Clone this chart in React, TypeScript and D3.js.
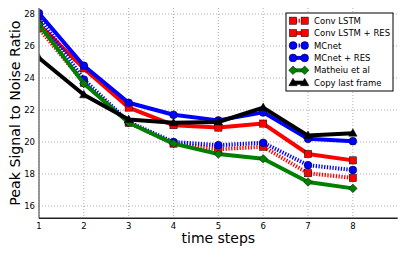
import React from 'react';
import * as d3 from 'd3';

// time steps on the x axis
const steps = [1, 2, 3, 4, 5, 6, 7, 8];

// PSNR values per method
const convLstm = [27.1, 23.7, 21.2, 19.9, 19.55, 19.7, 18.05, 17.75];
const convLstmRes = [27.35, 24.6, 22.15, 21.05, 20.9, 21.15, 19.25, 18.85];
const mcnet = [27.85, 23.9, 21.25, 20.0, 19.8, 19.95, 18.55, 18.25];
const mcnetRes = [28.05, 24.77, 22.45, 21.7, 21.35, 21.85, 20.2, 20.05];
const mathieu = [27.35, 23.65, 21.2, 19.9, 19.25, 18.95, 17.5, 17.1];
const copyLast = [25.25, 22.95, 21.4, 21.2, 21.25, 22.15, 20.4, 20.55];

const xTicks = [1, 2, 3, 4, 5, 6, 7, 8];
const yTicks = [16, 18, 20, 22, 24, 26, 28];

type Series = {
  name: string;
  values: number[];
  color: string;
  dotted: boolean;
  marker: 'square' | 'circle' | 'diamond' | 'triangle';
};

const series: Series[] = [
  { name: 'Conv LSTM', values: convLstm, color: '#ff0000', dotted: true, marker: 'square' },
  { name: 'Conv LSTM + RES', values: convLstmRes, color: '#ff0000', dotted: false, marker: 'square' },
  { name: 'MCnet', values: mcnet, color: '#0000ff', dotted: true, marker: 'circle' },
  { name: 'MCnet + RES', values: mcnetRes, color: '#0000ff', dotted: false, marker: 'circle' },
  { name: 'Matheiu et al', values: mathieu, color: '#008000', dotted: false, marker: 'diamond' },
  { name: 'Copy last frame', values: copyLast, color: '#000000', dotted: false, marker: 'triangle' },
];

const FONT = 'DejaVu Sans, sans-serif';

const Marker = ({ kind, x, y, fill }: { kind: string; x: number; y: number; fill: string }) => {
  if (kind === 'square')
    return <rect x={x - 3.6} y={y - 3.6} width={7.2} height={7.2} fill={fill} stroke="#000" strokeWidth={0.5} />;
  if (kind === 'circle') return <circle cx={x} cy={y} r={3.9} fill={fill} stroke="#000" strokeWidth={0.5} />;
  if (kind === 'diamond')
    return (
      <path d={`M${x},${y - 4.3}L${x + 4.3},${y}L${x},${y + 4.3}L${x - 4.3},${y}Z`} fill={fill} stroke="#000" strokeWidth={0.5} />
    );
  return <path d={`M${x},${y - 4.5}L${x + 4.2},${y + 3}L${x - 4.2},${y + 3}Z`} fill={fill} stroke="#000" strokeWidth={0.5} />;
};

const App = () => {
  const width = 407;
  const height = 255;
  const left = 39;
  const right = 397.7;
  const top = 8;
  const bottom = 218.3;

  const xScale = d3.scaleLinear().domain([1, 9]).range([left, right]);
  const yScale = d3.scaleLinear().domain([15.23, 28.375]).range([bottom, top]);

  const line = d3
    .line<number>()
    .x((_, i) => xScale(steps[i]))
    .y((d) => yScale(d));

  const legendX = 286;
  const legendY = 13;
  const rowH = 12.4;

  return (
    <svg width={width} height={height} style={{ position: 'absolute', left: 0, top: 0, background: '#fff' }}>
      <defs>
        <clipPath id="plotClip">
          <rect x={left} y={top} width={right - left} height={bottom - top} />
        </clipPath>
      </defs>

      {/* grid */}
      {xTicks.map((t) => (
        <line key={'gx' + t} x1={xScale(t)} x2={xScale(t)} y1={top} y2={bottom} stroke="#999" strokeWidth={0.8} strokeDasharray="1,2" />
      ))}
      {yTicks.map((t) => (
        <line key={'gy' + t} x1={left} x2={right} y1={yScale(t)} y2={yScale(t)} stroke="#999" strokeWidth={0.8} strokeDasharray="1,2" />
      ))}

      {/* series */}
      <g clipPath="url(#plotClip)">
        {series.map((s) => (
          <g key={s.name}>
            <path
              d={line(s.values) || ''}
              fill="none"
              stroke={s.color}
              strokeWidth={4}
              strokeDasharray={s.dotted ? '1.3,1.5' : undefined}
              strokeLinejoin="round"
            />
            {s.values.map((v, i) => (
              <Marker key={i} kind={s.marker} x={xScale(steps[i])} y={yScale(v)} fill={s.color} />
            ))}
          </g>
        ))}
      </g>

      {/* spines */}
      <line x1={left} x2={left} y1={top} y2={bottom} stroke="#777" strokeWidth={1.5} />
      <line x1={left} x2={right} y1={bottom} y2={bottom} stroke="#222" strokeWidth={1.5} />

      {/* tick labels */}
      {xTicks.map((t) => (
        <text key={'tx' + t} x={xScale(t)} y={228.5} fontSize={8.5} fontFamily={FONT} textAnchor="middle">
          {t}
        </text>
      ))}
      {yTicks.map((t) => (
        <text key={'ty' + t} x={35} y={yScale(t) + 3} fontSize={8.5} fontFamily={FONT} textAnchor="end">
          {t}
        </text>
      ))}

      {/* axis labels */}
      <text x={(left + right) / 2} y={243} fontSize={14} fontFamily={FONT} textAnchor="middle">
        time steps
      </text>
      <text
        transform={`translate(20,${(top + bottom) / 2}) rotate(-90)`}
        fontSize={14.2}
        fontFamily={FONT}
        textAnchor="middle"
      >
        Peak Signal to Noise Ratio
      </text>

      {/* legend */}
      <rect x={legendX} y={legendY} width={107} height={78} fill="#fff" stroke="#000" strokeWidth={1} />
      {series.map((s, i) => {
        const cy = legendY + 7.7 + i * rowH;
        const x1 = 293;
        const x2 = 304.7;
        return (
          <g key={'lg' + s.name}>
            <line x1={x1} x2={x2} y1={cy} y2={cy} stroke={s.color} strokeWidth={4} strokeDasharray={s.dotted ? '1.3,1.5' : undefined} />
            <Marker kind={s.marker} x={x1} y={cy} fill={s.color} />
            <Marker kind={s.marker} x={x2} y={cy} fill={s.color} />
            <text x={314} y={cy + 3} fontSize={8.5} fontFamily={FONT}>
              {s.name}
            </text>
          </g>
        );
      })}
    </svg>
  );
};

export default App;
